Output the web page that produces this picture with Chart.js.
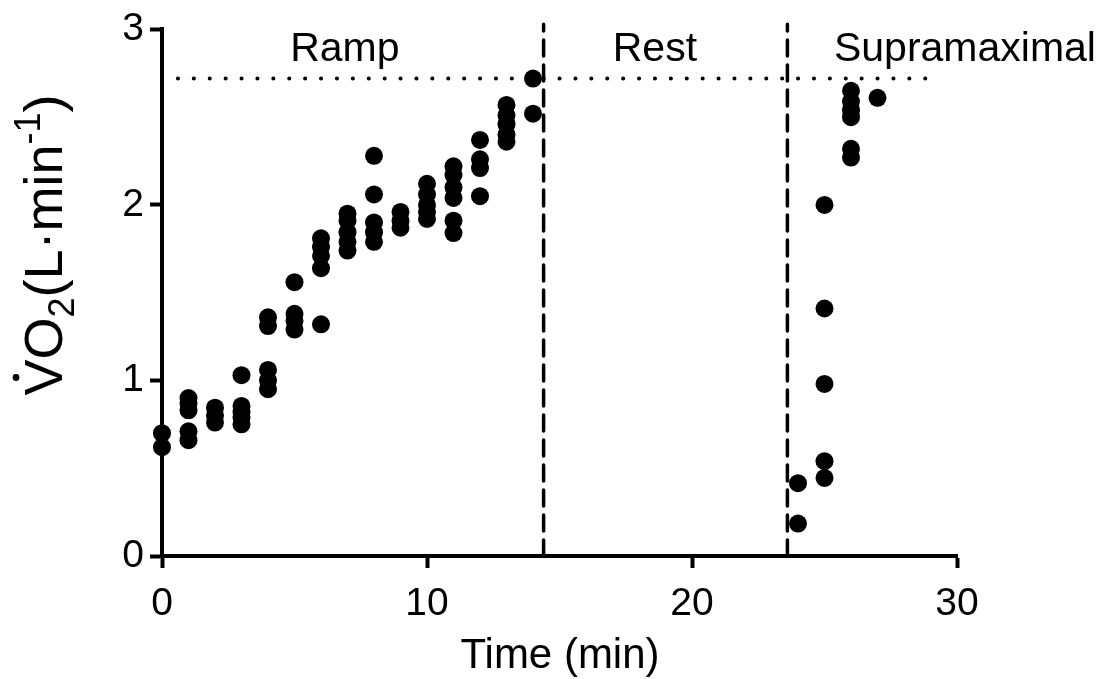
<!DOCTYPE html>
<html>
<head>
<meta charset="utf-8">
<script src="https://cdn.jsdelivr.net/npm/chart.js@4.4.0/dist/chart.umd.min.js"></script>
<style>
  html, body { margin: 0; padding: 0; background: #fff; }
  #wrap { width: 1110px; height: 679px; }
</style>
</head>
<body>
<div id="wrap"><canvas id="myChart"></canvas></div>
<script>
// measured points, one time value per VO2 value
const timeMin = [
  0, 0,
  1, 1, 1, 1, 1,
  2, 2, 2,
  3, 3, 3, 3, 3,
  4, 4, 4, 4, 4,
  5, 5, 5, 5,
  6, 6, 6, 6, 6,
  7, 7, 7, 7, 7,
  8, 8, 8, 8, 8,
  9, 9, 9,
  10, 10, 10, 10, 10,
  11, 11, 11, 11, 11, 11,
  12, 12, 12, 12,
  13, 13, 13, 13, 13,
  14, 14,
  24, 24,
  25, 25, 25, 25, 25,
  26, 26, 26, 26, 26, 26,
  27
];
const vo2 = [
  0.70, 0.62,
  0.90, 0.87, 0.83, 0.71, 0.66,
  0.845, 0.80, 0.76,
  1.03, 0.855, 0.82, 0.79, 0.75,
  1.36, 1.31, 1.06, 1.00, 0.95,
  1.56, 1.38, 1.34, 1.29,
  1.81, 1.76, 1.71, 1.64, 1.32,
  1.95, 1.91, 1.845, 1.79, 1.74,
  2.28, 2.06, 1.90, 1.845, 1.79,
  1.96, 1.91, 1.87,
  2.12, 2.06, 2.00, 1.96, 1.92,
  2.22, 2.17, 2.10, 2.04, 1.91, 1.84,
  2.37, 2.26, 2.21, 2.05,
  2.57, 2.51, 2.46, 2.40, 2.36,
  2.72, 2.52,
  0.415, 0.185,
  2.00, 1.41, 0.98, 0.54, 0.445,
  2.65, 2.59, 2.54, 2.50, 2.32, 2.27,
  2.61
];

const peakVO2 = 2.72;
const peakLineEnd = 29.4;
const phaseEnds = [14.4, 23.6];
const phaseNames = ['Ramp', 'Rest', 'Supramaximal'];
const phaseLabelX = [6.9, 18.6, 30.3];
const xTicks = [0, 10, 20, 30];
const yTicks = [0, 1, 2, 3];

const FONT = "'Liberation Sans', Arial, sans-serif";

const points = timeMin.map((t, i) => ({ x: t, y: vo2[i] }));

const lineStyle = {
  showLine: true,
  pointRadius: 0,
  pointHoverRadius: 0,
  borderColor: '#000',
  backgroundColor: '#000',
  clip: false,
  order: 2
};

const data = {
  datasets: [
    {
      label: 'VO2',
      data: points,
      pointRadius: 9,
      pointHoverRadius: 9,
      backgroundColor: '#000',
      borderColor: '#000',
      borderWidth: 0,
      clip: false,
      order: 1
    },
    Object.assign({}, lineStyle, {
      label: 'peak',
      data: [{ x: 0, y: peakVO2 }, { x: peakLineEnd, y: peakVO2 }],
      borderWidth: 4,
      borderDash: [0.1, 15.8],
      borderCapStyle: 'round'
    }),
    Object.assign({}, lineStyle, {
      label: 'end ramp',
      data: [{ x: phaseEnds[0], y: 0 }, { x: phaseEnds[0], y: 3.03 }],
      borderWidth: 3.5,
      borderDash: [16, 9],
      borderCapStyle: 'round'
    }),
    Object.assign({}, lineStyle, {
      label: 'end rest',
      data: [{ x: phaseEnds[1], y: 0 }, { x: phaseEnds[1], y: 3.03 }],
      borderWidth: 3.5,
      borderDash: [16, 9],
      borderCapStyle: 'round'
    })
  ]
};

// phase names, axis titles (y title has a dot, subscript and superscript)
const annotate = {
  id: 'annotate',
  afterDraw(chart) {
    const ctx = chart.ctx;
    const xs = chart.scales.x;
    const ys = chart.scales.y;
    ctx.save();
    ctx.fillStyle = '#000';
    ctx.font = '41px ' + FONT;
    ctx.textAlign = 'center';
    ctx.textBaseline = 'alphabetic';
    phaseNames.forEach((name, i) => {
      ctx.fillText(name, xs.getPixelForValue(phaseLabelX[i]), ys.getPixelForValue(2.82));
    });

    ctx.font = '42px ' + FONT;
    ctx.fillText('Time (min)', 560, 668);

    // rotated y title
    ctx.translate(62, 245);
    ctx.rotate(-Math.PI / 2);
    ctx.textAlign = 'left';
    const big = '54px ' + FONT;
    const small = '36px ' + FONT;
    const parts = [
      { t: 'V', f: big, dy: 0 },
      { t: 'O', f: big, dy: 0 },
      { t: '2', f: small, dy: 12 },
      { t: '(L\u00b7min', f: big, dy: 0 },
      { t: '-1', f: small, dy: -22 },
      { t: ')', f: big, dy: 0 }
    ];
    let total = 0;
    parts.forEach(p => { ctx.font = p.f; p.w = ctx.measureText(p.t).width; total += p.w; });
    let x = -total / 2;
    parts.forEach((p, i) => {
      ctx.font = p.f;
      ctx.fillText(p.t, x, p.dy);
      if (i === 0) {
        ctx.beginPath();
        ctx.arc(x + p.w / 2, -46, 3.4, 0, Math.PI * 2);
        ctx.fill();
      }
      x += p.w;
    });
    ctx.restore();
  }
};

const options = {
  responsive: true,
  maintainAspectRatio: false,
  animation: false,
  layout: {
    padding: { top: 26, right: 153, bottom: 0, left: 0 }
  },
  plugins: {
    legend: { display: false },
    tooltip: { enabled: false }
  },
  scales: {
    x: {
      type: 'linear',
      min: 0,
      max: 30,
      afterFit(scale) { scale.height = 123; },
      afterBuildTicks(scale) { scale.ticks = xTicks.map(v => ({ value: v })); },
      border: { display: true, color: '#000', width: 4 },
      grid: {
        drawOnChartArea: false,
        drawTicks: true,
        tickLength: 12,
        tickWidth: 4,
        tickColor: '#000'
      },
      ticks: {
        color: '#000',
        padding: 13,
        maxRotation: 0,
        font: { family: FONT, size: 39 }
      }
    },
    y: {
      type: 'linear',
      min: 0,
      max: 3,
      afterFit(scale) { scale.width = 162; },
      afterBuildTicks(scale) { scale.ticks = yTicks.map(v => ({ value: v })); },
      border: { display: true, color: '#000', width: 4 },
      grid: {
        drawOnChartArea: false,
        drawTicks: true,
        tickLength: 12,
        tickWidth: 4,
        tickColor: '#000'
      },
      ticks: {
        color: '#000',
        padding: 6,
        font: { family: FONT, size: 39 }
      }
    }
  }
};

new Chart(document.getElementById('myChart'), {
  type: 'scatter',
  data: data,
  options: options,
  plugins: [annotate]
});
</script>
</body>
</html>
